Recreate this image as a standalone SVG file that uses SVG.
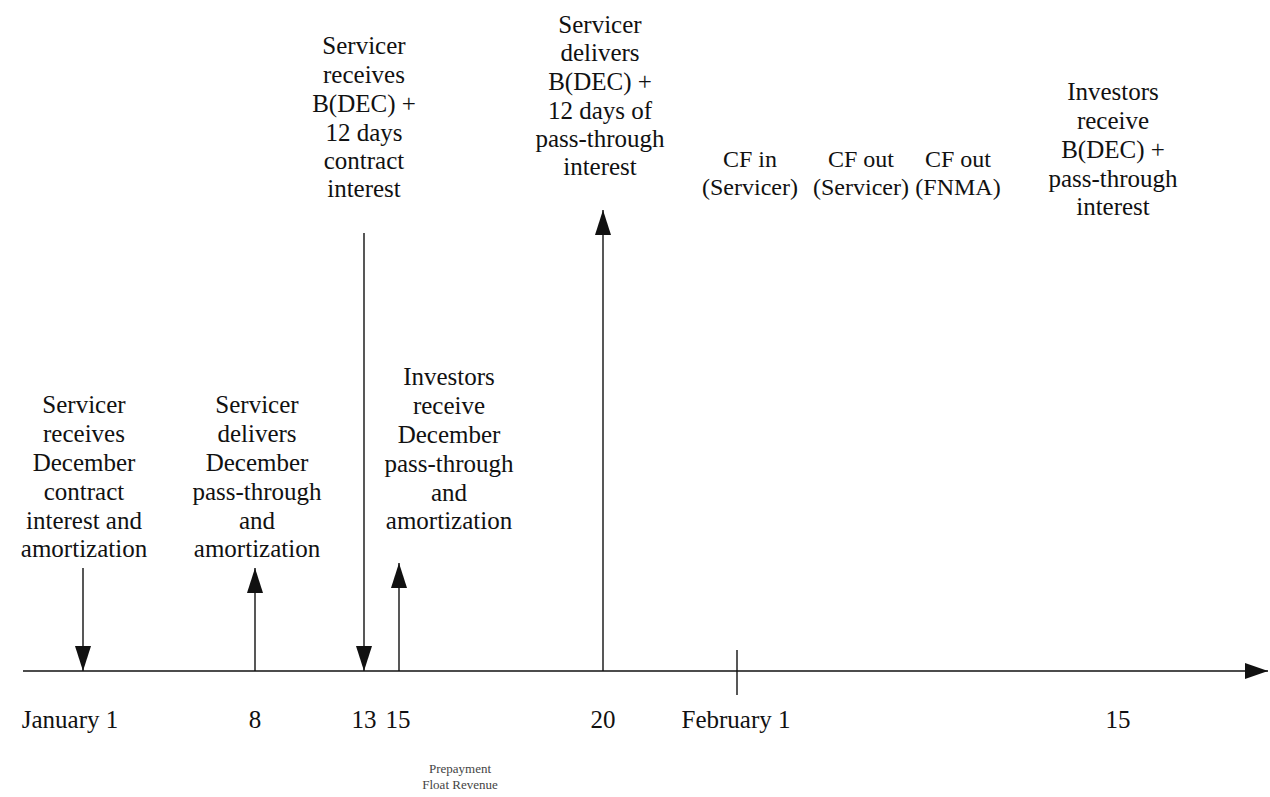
<svg xmlns="http://www.w3.org/2000/svg" width="1270" height="797" viewBox="0 0 1270 797">
<style>
.t{font-family:"Liberation Serif","Times New Roman",serif;font-size:25px;fill:#111;text-anchor:middle}
.c{font-size:24px}
.s{font-family:"Liberation Serif","Times New Roman",serif;font-size:13px;fill:#444;text-anchor:middle}
.ln{stroke:#111;stroke-width:1.4;fill:none}
</style>
<defs>
<marker id="ah" markerUnits="userSpaceOnUse" markerWidth="25" markerHeight="16" refX="25" refY="8" orient="auto">
<path d="M0,0 L25,8 L0,16 z" fill="#111"/>
</marker>
<marker id="ax" markerUnits="userSpaceOnUse" markerWidth="23" markerHeight="16" refX="23" refY="8" orient="auto">
<path d="M0,0 L23,8 L0,16 z" fill="#111"/>
</marker>
</defs>
<rect width="1270" height="797" fill="#fff"/>
<g id="connectors">
<line id="timeline" class="ln" x1="23" y1="671" x2="1268" y2="671" marker-end="url(#ax)"/>
<line class="ln" x1="83" y1="568" x2="83" y2="671" marker-end="url(#ah)"/>
<line class="ln" x1="255" y1="671" x2="255" y2="568" marker-end="url(#ah)"/>
<line class="ln" x1="364" y1="233" x2="364" y2="671" marker-end="url(#ah)"/>
<line class="ln" x1="399" y1="671" x2="399" y2="563" marker-end="url(#ah)"/>
<line class="ln" x1="603" y1="671" x2="603" y2="210" marker-end="url(#ah)"/>
<line class="ln" x1="737" y1="650" x2="737" y2="695"/>
</g>
<g id="n1"><text class="t"><tspan x="84" y="413">Servicer</tspan><tspan x="84" y="442">receives</tspan><tspan x="84" y="471">December</tspan><tspan x="84" y="500">contract</tspan><tspan x="84" y="529">interest and</tspan><tspan x="84" y="557">amortization</tspan></text></g>
<g id="n2"><text class="t"><tspan x="257" y="413">Servicer</tspan><tspan x="257" y="442">delivers</tspan><tspan x="257" y="471">December</tspan><tspan x="257" y="500">pass-through</tspan><tspan x="257" y="529">and</tspan><tspan x="257" y="557">amortization</tspan></text></g>
<g id="n3"><text class="t"><tspan x="364" y="54">Servicer</tspan><tspan x="364" y="83">receives</tspan><tspan x="364" y="112">B(DEC) +</tspan><tspan x="364" y="141">12 days</tspan><tspan x="364" y="169">contract</tspan><tspan x="364" y="197">interest</tspan></text></g>
<g id="n4"><text class="t"><tspan x="449" y="385">Investors</tspan><tspan x="449" y="414">receive</tspan><tspan x="449" y="443">December</tspan><tspan x="449" y="472">pass-through</tspan><tspan x="449" y="501">and</tspan><tspan x="449" y="529">amortization</tspan></text></g>
<g id="n5"><text class="t"><tspan x="600" y="33">Servicer</tspan><tspan x="600" y="61">delivers</tspan><tspan x="600" y="90">B(DEC) +</tspan><tspan x="600" y="119">12 days of</tspan><tspan x="600" y="147">pass-through</tspan><tspan x="600" y="175">interest</tspan></text></g>
<g id="n6"><text class="t c"><tspan x="750" y="167">CF in</tspan><tspan x="750" y="195">(Servicer)</tspan></text></g>
<g id="n7"><text class="t c"><tspan x="861" y="167">CF out</tspan><tspan x="861" y="195">(Servicer)</tspan></text></g>
<g id="n8"><text class="t c"><tspan x="958" y="167">CF out</tspan><tspan x="958" y="195">(FNMA)</tspan></text></g>
<g id="n9"><text class="t"><tspan x="1113" y="100">Investors</tspan><tspan x="1113" y="129">receive</tspan><tspan x="1113" y="158">B(DEC) +</tspan><tspan x="1113" y="187">pass-through</tspan><tspan x="1113" y="215">interest</tspan></text></g>
<g id="labels">
<text class="t" x="70" y="728">January 1</text>
<text class="t" x="255" y="728">8</text>
<text class="t" x="364" y="728">13</text>
<text class="t" x="398" y="728">15</text>
<text class="t" x="603" y="728">20</text>
<text class="t" x="736" y="728">February 1</text>
<text class="t" x="1118" y="728">15</text>
<text class="s" x="460" y="773">Prepayment</text>
<text class="s" x="460" y="789">Float Revenue</text>
</g>
</svg>
